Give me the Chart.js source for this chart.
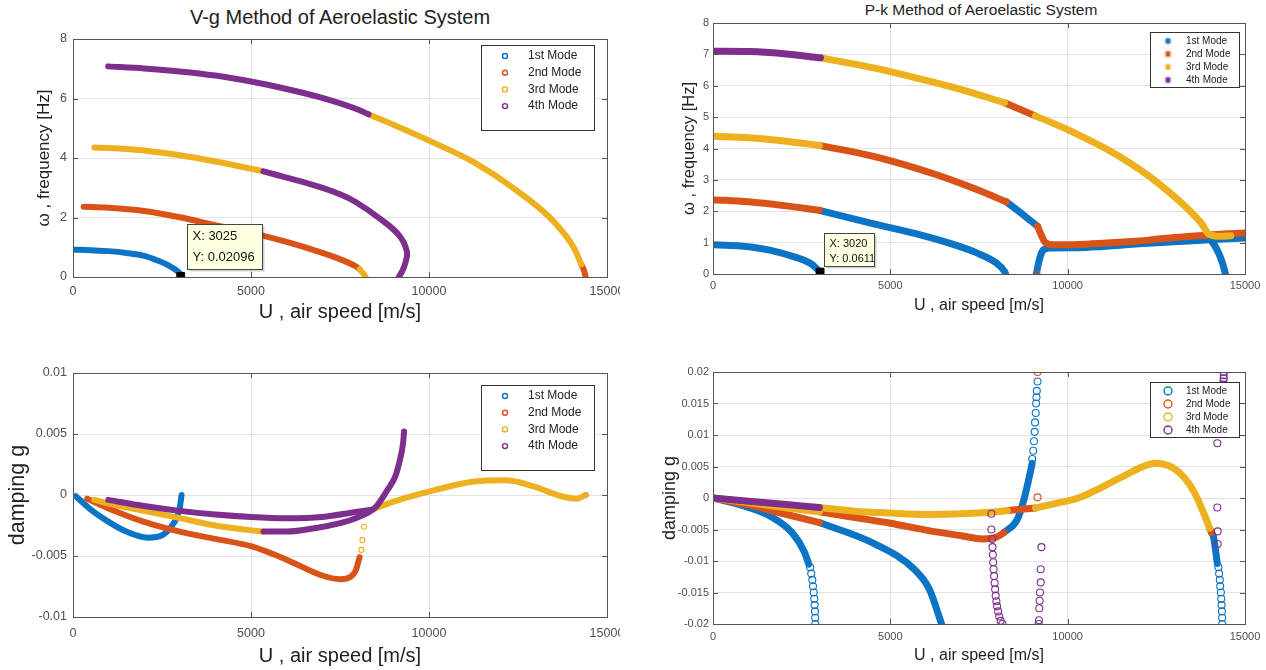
<!DOCTYPE html>
<html>
<head>
<meta charset="utf-8">
<script src="https://cdn.jsdelivr.net/npm/chart.js@4.4.0/dist/chart.umd.min.js"></script>
<style>
  body { margin: 0; background: #fff; width: 1266px; height: 670px; position: relative; overflow: hidden; font-family: "Liberation Sans", Arial, sans-serif; }
  canvas { position: absolute; }
  .title { position: absolute; color: #222; white-space: nowrap; transform: translate(-50%, -50%); }
</style>
</head>
<body>
<div class="title" style="left:340px;top:17px;font-size:20px">V-g Method of Aeroelastic System</div>
<div class="title" style="left:981px;top:10px;font-size:15.5px">P-k Method of Aeroelastic System</div>
<canvas id="vgFreq" width="620" height="330" style="left:0;top:0"></canvas>
<canvas id="pkFreq" width="626" height="320" style="left:640px;top:0"></canvas>
<canvas id="vgDamp" width="620" height="340" style="left:0;top:330px"></canvas>
<canvas id="pkDamp" width="626" height="340" style="left:640px;top:330px"></canvas>
<script>
"use strict";

Chart.defaults.font.family = '"Liberation Sans", Arial, sans-serif';
Chart.defaults.color = '#4d4d4d';

const modeNames = ['1st Mode', '2nd Mode', '3rd Mode', '4th Mode'];
const modeColors = ['#0b74c4', '#d95319', '#edb120', '#7e2f8e'];

const speedTicks = [0, 5000, 10000, 15000];
const vgFreqTicks = [0, 2, 4, 6, 8];
const pkFreqTicks = [0, 1, 2, 3, 4, 5, 6, 7, 8];
const vgDampTicks = [-0.01, -0.005, 0, 0.005, 0.01];
const pkDampTicks = [-0.02, -0.015, -0.01, -0.005, 0, 0.005, 0.01, 0.015, 0.02];

// V-g : frequency
const vgFreqBlue = [[50, 0.92], [500, 0.9], [1000, 0.87], [1500, 0.81], [2000, 0.71], [2340, 0.57], [2600, 0.44], [2780, 0.32], [2990, 0.14], [3040, 0.05]];
const vgFreqOrange = [[300, 2.36], [1000, 2.33], [2000, 2.22], [3000, 2.01], [4000, 1.74], [5270, 1.41], [6000, 1.18], [6830, 0.88], [7500, 0.6], [7940, 0.36], [8050, 0.26]];
const vgFreqYellowTip = [[8050, 0.26], [8150, 0.12], [8220, 0]];
const vgFreqYellowLow = [[600, 4.35], [1000, 4.34], [2000, 4.25], [3000, 4.09], [4000, 3.88], [5000, 3.64], [5350, 3.55]];
const vgFreqPurpleLow = [[5350, 3.55], [6000, 3.34], [6830, 3.06], [7500, 2.78], [7940, 2.52], [8600, 1.98], [9160, 1.4], [9380, 0.85], [9330, 0.45], [9250, 0.2], [9150, 0]];
const vgFreqPurpleTop = [[990, 7.08], [2000, 7.01], [3000, 6.91], [4000, 6.77], [5000, 6.57], [6000, 6.32], [7000, 6.02], [8000, 5.63], [8300, 5.47]];
const vgFreqYellowTop = [[8300, 5.47], [9000, 5.12], [10160, 4.5], [11270, 3.85], [12390, 2.97], [13500, 1.87], [14060, 1.0], [14280, 0.42]];
const vgFreqOrangeTip = [[14280, 0.42], [14360, 0.2], [14400, 0]];
const vgFreqTip = [3025, 0.02096];

// P-k : frequency
const pkFreqBlueA = [[0, 0.93], [500, 0.91], [1070, 0.86], [1600, 0.76], [2220, 0.57], [2600, 0.42], [2800, 0.3], [2970, 0.12], [3020, 0.06]];
const pkFreqOrangeA = [[0, 2.37], [1000, 2.3], [2000, 2.18], [3000, 2.03]];
const pkFreqBlueB = [[3000, 2.03], [4530, 1.6], [5870, 1.24], [6840, 0.92], [7420, 0.68], [7990, 0.35], [8220, 0.08], [8250, 0]];
const pkFreqYellowA = [[0, 4.39], [1000, 4.34], [2000, 4.24], [3000, 4.1]];
const pkFreqOrangeB = [[3000, 4.1], [4530, 3.75], [6260, 3.18], [7420, 2.7], [8270, 2.3]];
const pkFreqBlueC = [[8270, 2.3], [8690, 1.94], [9150, 1.52]];
const pkFreqOrangeC = [[9150, 1.52], [9380, 0.99], [9600, 0.93], [10300, 0.94], [11000, 0.98], [12000, 1.05], [12600, 1.12], [13500, 1.2], [14200, 1.26], [15000, 1.31]];
const pkFreqBlueD = [[9120, 0.02], [9200, 0.45], [9300, 0.75], [9500, 0.83], [10300, 0.84], [11000, 0.88], [12000, 0.96], [13000, 1.03], [14000, 1.09], [15000, 1.15]];
const pkFreqOrangeDot = [[9150, 0]];
const pkFreqPurpleA = [[0, 7.1], [1070, 7.09], [2000, 7.02], [3030, 6.89]];
const pkFreqYellowB = [[3030, 6.89], [4530, 6.57], [5690, 6.26], [7000, 5.88], [8220, 5.46]];
const pkFreqOrangeD = [[8220, 5.46], [9090, 5.04]];
const pkFreqYellowC = [[9090, 5.04], [10000, 4.6], [11450, 3.75], [12600, 2.85], [13760, 1.63], [13990, 1.26], [14300, 1.2], [14600, 1.22]];
const pkFreqBlueE = [[14000, 1.15], [14200, 0.8], [14350, 0.4], [14450, 0]];
const pkFreqTip = [3020, 0.0611];

// V-g : damping
const vgDampBlue = [[80, -0.0001], [500, -0.0012], [1000, -0.0022], [1500, -0.003], [2100, -0.0035], [2500, -0.0033], [2830, -0.0023], [2990, -0.0012], [3050, 0]];
const vgDampOrange = [[400, -0.0003], [1000, -0.0011], [2000, -0.0022], [3000, -0.003], [4000, -0.0036], [5000, -0.0042], [6000, -0.0053], [7000, -0.0066], [7500, -0.0069], [7800, -0.0067], [7940, -0.0062], [8050, -0.0051]];
const vgDampYellowDots = [[8100, -0.0045], [8130, -0.0037], [8170, -0.0026]];
const vgDampYellowA = [[600, -0.0004], [1000, -0.0007], [2000, -0.0013], [3000, -0.0019], [4000, -0.0025], [5000, -0.0029], [5350, -0.003]];
const vgDampPurpleA = [[5350, -0.003], [6000, -0.003], [6830, -0.0027], [7500, -0.0023], [7940, -0.0019], [8500, -0.001], [8830, 0.0004], [9050, 0.0015], [9160, 0.0026], [9270, 0.0042], [9300, 0.0052]];
const vgDampPurpleB = [[990, -0.0004], [2000, -0.0009], [3000, -0.0013], [4000, -0.0016], [5000, -0.0018], [6000, -0.0019], [7000, -0.0018], [7940, -0.0014], [8400, -0.0012]];
const vgDampYellowB = [[8400, -0.0012], [9050, -0.0005], [10160, 0.0004], [11270, 0.0011], [12160, 0.0012], [12940, 0.0007], [13720, -0.0001], [14160, -0.0003], [14390, 0]];
const vgDampOrangeDot = [[14400, 0]];

// P-k : damping
const pkDampBlueA = [[0, 0], [1000, -0.0015], [1650, -0.003], [2230, -0.0055], [2570, -0.0085], [2700, -0.0105]];
const pkDampBlueADots = [[2740, -0.011], [2770, -0.012], [2800, -0.013], [2820, -0.014], [2840, -0.015], [2855, -0.016], [2865, -0.017], [2875, -0.018], [2880, -0.019], [2885, -0.02]];
const pkDampOrangeA = [[0, 0], [1000, -0.0011], [2000, -0.0025], [3000, -0.0039]];
const pkDampBlueB = [[3000, -0.0039], [4530, -0.0072], [5690, -0.0114], [6100, -0.0145], [6440, -0.0199]];
const pkDampYellowA = [[0, 0], [1000, -0.0007], [2000, -0.0015], [3000, -0.0022]];
const pkDampPurpleA = [[0, 0], [1000, -0.0005], [2000, -0.001], [3000, -0.0015]];
const pkDampOrangeB = [[3000, -0.0022], [4000, -0.0031], [5000, -0.004], [6000, -0.0051], [7000, -0.006], [7600, -0.0065], [8000, -0.0062], [8200, -0.0055]];
const pkDampBlueC = [[8200, -0.0055], [8570, -0.0035], [8740, -0.0008], [8920, 0.0034], [9000, 0.0055]];
const pkDampBlueCDots = [[9000, 0.0062], [9030, 0.0075], [9050, 0.009], [9070, 0.0105], [9080, 0.012], [9100, 0.0135], [9110, 0.015], [9120, 0.016], [9130, 0.017], [9150, 0.0185]];
const pkDampYellowB = [[3000, -0.0015], [4000, -0.0021], [5000, -0.0024], [6000, -0.0026], [7000, -0.0025], [8000, -0.0022], [8300, -0.002]];
const pkDampOrangeC = [[8300, -0.002], [9090, -0.0016]];
const pkDampYellowC = [[9090, -0.0016], [9700, -0.0008], [10300, 0], [11450, 0.0031], [12000, 0.0047], [12490, 0.0055], [13070, 0.0044], [13530, 0.0013], [13880, -0.003], [14000, -0.0048]];
const pkDampOrangeD = [[14000, -0.0048], [14060, -0.0055]];
const pkDampBlueD = [[14060, -0.0055], [14110, -0.0061], [14220, -0.0104]];
const pkDampBlueDDots = [[14250, -0.011], [14270, -0.012], [14290, -0.013], [14300, -0.014], [14320, -0.015], [14330, -0.016], [14340, -0.017], [14350, -0.018], [14355, -0.019], [14360, -0.02]];
const pkDampOrangeDots = [[9150, 0.02], [9150, 0.0001]];
const pkDampPurpleDots = [
    [7850, -0.0025], [7850, -0.005], [7870, -0.0065], [7880, -0.0078], [7890, -0.009], [7900, -0.0102], [7910, -0.0113],
    [7925, -0.0124], [7940, -0.0135], [7955, -0.0145], [7970, -0.0155], [7990, -0.0164], [8010, -0.0172], [8040, -0.018],
    [8070, -0.0188], [8110, -0.0195], [8160, -0.02],
    [9260, -0.0078], [9240, -0.0113], [9240, -0.0134], [9220, -0.015], [9210, -0.0163], [9200, -0.0175], [9190, -0.0194], [9180, -0.02],
    [14220, 0.0087], [14220, -0.0015], [14230, -0.0053], [14230, -0.0073],
    [14400, 0.02], [14400, 0.0195], [14400, 0.019], [14390, 0.0185], [14390, 0.018]
];

const toXY = (pts) => pts.map(([x, y]) => ({x, y}));
const fmt = (v) => String(Number(Number(v).toFixed(6)));

// thick line standing in for a dense run of markers
function band(pts, mode, width, loops) {
    return {
        data: toXY(pts),
        showLine: true,
        borderColor: modeColors[mode],
        borderWidth: width,
        borderCapStyle: 'round',
        borderJoinStyle: 'round',
        pointRadius: 0,
        cubicInterpolationMode: loops ? 'default' : 'monotone',
        tension: loops ? 0.4 : 0,
        order: 4 - mode
    };
}

function marks(pts, mode, radius) {
    return {
        data: toXY(pts),
        showLine: false,
        pointStyle: 'circle',
        pointRadius: radius,
        pointBorderWidth: 1.1,
        pointBorderColor: modeColors[mode],
        pointBackgroundColor: 'rgba(0,0,0,0)',
        order: 4 - mode
    };
}

function tipMark(tip) {
    return {
        data: toXY([tip]),
        showLine: false,
        pointStyle: 'rect',
        pointRadius: 5.5,
        pointBackgroundColor: '#000',
        pointBorderColor: '#000',
        order: -1
    };
}

// MATLAB-like box, inward ticks, legend and data tip
const framePlugin = {
    id: 'matlabFrame',
    afterDatasetsDraw(chart, args, opts) {
        const {ctx, chartArea: a, scales} = chart;
        ctx.save();
        ctx.strokeStyle = '#555';
        ctx.lineWidth = 1;
        ctx.strokeRect(Math.round(a.left) + 0.5, Math.round(a.top) + 0.5, Math.round(a.right - a.left), Math.round(a.bottom - a.top));
        ctx.beginPath();
        scales.x.ticks.forEach(t => {
            const px = Math.round(scales.x.getPixelForValue(t.value)) + 0.5;
            ctx.moveTo(px, a.bottom); ctx.lineTo(px, a.bottom - 5);
            ctx.moveTo(px, a.top); ctx.lineTo(px, a.top + 5);
        });
        scales.y.ticks.forEach(t => {
            const py = Math.round(scales.y.getPixelForValue(t.value)) + 0.5;
            ctx.moveTo(a.left, py); ctx.lineTo(a.left + 5, py);
            ctx.moveTo(a.right, py); ctx.lineTo(a.right - 5, py);
        });
        ctx.stroke();

        const tip = opts.tip;
        if (tip) {
            const px = scales.x.getPixelForValue(tip.value[0]);
            const py = scales.y.getPixelForValue(tip.value[1]);
            const bx = Math.round(px + tip.dx) + 0.5, by = Math.round(py + tip.dy) + 0.5;
            ctx.fillStyle = 'rgba(0,0,0,0.18)';
            ctx.fillRect(bx + 2, by + 2, tip.w, tip.h);
            ctx.fillStyle = '#ffffe1';
            ctx.fillRect(bx, by, tip.w, tip.h);
            ctx.strokeStyle = '#444';
            ctx.strokeRect(bx, by, tip.w, tip.h);
            ctx.fillStyle = '#111';
            ctx.font = tip.size + 'px "Liberation Sans", Arial, sans-serif';
            ctx.textBaseline = 'middle';
            ctx.textAlign = 'left';
            ctx.fillText('X: ' + tip.value[0], bx + 5, by + tip.rows[0]);
            ctx.fillText('Y: ' + tip.value[1], bx + 5, by + tip.rows[1]);
        }

        const lg = opts.legend;
        if (lg) {
            ctx.fillStyle = '#fff';
            ctx.fillRect(lg.x, lg.y, lg.w, lg.h);
            ctx.strokeStyle = '#333';
            ctx.strokeRect(lg.x + 0.5, lg.y + 0.5, lg.w, lg.h);
            ctx.font = lg.size + 'px "Liberation Sans", Arial, sans-serif';
            ctx.textBaseline = 'middle';
            ctx.textAlign = 'left';
            modeNames.forEach((name, i) => {
                const ry = lg.y + lg.first + i * lg.step;
                const mx = lg.x + lg.markX;
                ctx.strokeStyle = modeColors[i];
                ctx.lineWidth = lg.marker === 'star' ? 1.2 : 1.4;
                ctx.beginPath();
                if (lg.marker === 'star') {
                    for (let k = 0; k < 4; k++) {
                        const ang = k * Math.PI / 4;
                        ctx.moveTo(mx - 3.5 * Math.cos(ang), ry - 3.5 * Math.sin(ang));
                        ctx.lineTo(mx + 3.5 * Math.cos(ang), ry + 3.5 * Math.sin(ang));
                    }
                } else {
                    ctx.arc(mx, ry, lg.marker === 'circle' ? 4 : 2.5, 0, Math.PI * 2);
                }
                ctx.stroke();
                ctx.fillStyle = '#222';
                ctx.fillText(name, lg.x + lg.textX, ry);
            });
        }
        ctx.restore();
    }
};

function axes(c) {
    return {
        x: {
            type: 'linear', min: 0, max: 15000,
            afterBuildTicks: s => { s.ticks = speedTicks.map(v => ({value: v})); },
            afterFit: s => { s.height = c.xHeight; s.paddingLeft = 0; s.paddingRight = 0; },
            grid: {color: '#e2e2e2', drawTicks: false},
            border: {display: false},
            ticks: {padding: c.xTickPad, font: {size: c.tickSize}, maxRotation: 0, autoSkip: false, callback: fmt},
            title: {display: true, text: 'U , air speed [m/s]', color: '#222', font: {size: c.xTitleSize}, padding: {top: 0, bottom: c.xTitlePad}}
        },
        y: {
            type: 'linear', min: c.yTicks[0], max: c.yTicks[c.yTicks.length - 1],
            afterBuildTicks: s => { s.ticks = c.yTicks.map(v => ({value: v})); },
            afterFit: s => { s.width = 73; s.paddingTop = 0; s.paddingBottom = 0; },
            grid: {color: '#e2e2e2', drawTicks: false},
            border: {display: false},
            ticks: {padding: c.yTickPad, font: {size: c.tickSize}, autoSkip: false, callback: fmt},
            title: {display: true, text: c.yTitle, color: '#222', font: {size: c.yTitleSize}, padding: {top: c.yTitlePad, bottom: 0}}
        }
    };
}

function makeChart(id, datasets, c, frame) {
    new Chart(document.getElementById(id), {
        type: 'scatter',
        data: {datasets: datasets},
        options: {
            responsive: false,
            animation: false,
            layout: {padding: {top: c.top, right: c.right, left: 0, bottom: 0}},
            scales: axes(c),
            plugins: {legend: {display: false}, tooltip: {enabled: false}, matlabFrame: frame}
        },
        plugins: [framePlugin]
    });
}

makeChart('vgFreq', [
    tipMark(vgFreqTip),
    band(vgFreqBlue, 0, 6),
    band(vgFreqOrange, 1, 6), band(vgFreqOrangeTip, 1, 6),
    band(vgFreqYellowTip, 2, 6), band(vgFreqYellowLow, 2, 6), band(vgFreqYellowTop, 2, 6),
    band(vgFreqPurpleLow, 3, 6, true), band(vgFreqPurpleTop, 3, 6)
], {
    top: 39, right: 13, xHeight: 53, xTickPad: 7, tickSize: 12.5, xTitleSize: 20, xTitlePad: 6,
    yTicks: vgFreqTicks, yTickPad: 6, yTitle: '\u03c9 , frequency [Hz]', yTitleSize: 17, yTitlePad: 34
}, {
    tip: {value: vgFreqTip, dx: 6, dy: -52, w: 75, h: 45, size: 13, rows: [12, 33]},
    legend: {x: 481, y: 45, w: 113, h: 85, size: 12, marker: 'hex', markX: 24, textX: 47, first: 11, step: 16.7}
});

makeChart('pkFreq', [
    tipMark(pkFreqTip),
    band(pkFreqBlueA, 0, 7), band(pkFreqBlueB, 0, 7), band(pkFreqBlueC, 0, 7), band(pkFreqBlueD, 0, 7), band(pkFreqBlueE, 0, 7),
    band(pkFreqOrangeA, 1, 7), band(pkFreqOrangeB, 1, 7), band(pkFreqOrangeC, 1, 7), band(pkFreqOrangeD, 1, 7),
    marks(pkFreqOrangeDot, 1, 2.5),
    band(pkFreqYellowA, 2, 7), band(pkFreqYellowB, 2, 7), band(pkFreqYellowC, 2, 7),
    band(pkFreqPurpleA, 3, 7)
], {
    top: 23, right: 21, xHeight: 46, xTickPad: 5, tickSize: 11, xTitleSize: 16, xTitlePad: 5,
    yTicks: pkFreqTicks, yTickPad: 4, yTitle: '\u03c9 , frequency [Hz]', yTitleSize: 16.5, yTitlePad: 40
}, {
    tip: {value: pkFreqTip, dx: 4, dy: -39, w: 50, h: 33, size: 11, rows: [10, 25]},
    legend: {x: 510, y: 32, w: 89, h: 55, size: 10, marker: 'star', markX: 18, textX: 36, first: 9, step: 13}
});

makeChart('vgDamp', [
    band(vgDampBlue, 0, 6),
    band(vgDampOrange, 1, 6), marks(vgDampOrangeDot, 1, 2.5),
    marks(vgDampYellowDots, 2, 2.5), band(vgDampYellowA, 2, 6), band(vgDampYellowB, 2, 6),
    band(vgDampPurpleA, 3, 6), band(vgDampPurpleB, 3, 6)
], {
    top: 43, right: 13, xHeight: 53, xTickPad: 9, tickSize: 12.5, xTitleSize: 20, xTitlePad: 2,
    yTicks: vgDampTicks, yTickPad: 6, yTitle: 'damping g', yTitleSize: 21.5, yTitlePad: 5
}, {
    legend: {x: 481, y: 55, w: 113, h: 85, size: 12, marker: 'hex', markX: 24, textX: 47, first: 11, step: 16.7}
});

makeChart('pkDamp', [
    band(pkDampBlueA, 0, 7), marks(pkDampBlueADots, 0, 3.5), band(pkDampBlueB, 0, 7), band(pkDampBlueC, 0, 7),
    marks(pkDampBlueCDots, 0, 3.5), band(pkDampBlueD, 0, 7), marks(pkDampBlueDDots, 0, 3.5),
    band(pkDampOrangeA, 1, 7), band(pkDampOrangeB, 1, 7), band(pkDampOrangeC, 1, 7), band(pkDampOrangeD, 1, 7),
    marks(pkDampOrangeDots, 1, 3.5),
    band(pkDampYellowA, 2, 7), band(pkDampYellowB, 2, 7), band(pkDampYellowC, 2, 7),
    band(pkDampPurpleA, 3, 7), marks(pkDampPurpleDots, 3, 3.5)
], {
    top: 42, right: 21, xHeight: 46, xTickPad: 6, tickSize: 11, xTitleSize: 16, xTitlePad: 5,
    yTicks: pkDampTicks, yTickPad: 4, yTitle: 'damping g', yTitleSize: 18, yTitlePad: 19
}, {
    legend: {x: 510, y: 52, w: 89, h: 55, size: 10, marker: 'circle', markX: 18, textX: 36, first: 9, step: 13}
});
</script>
</body>
</html>
